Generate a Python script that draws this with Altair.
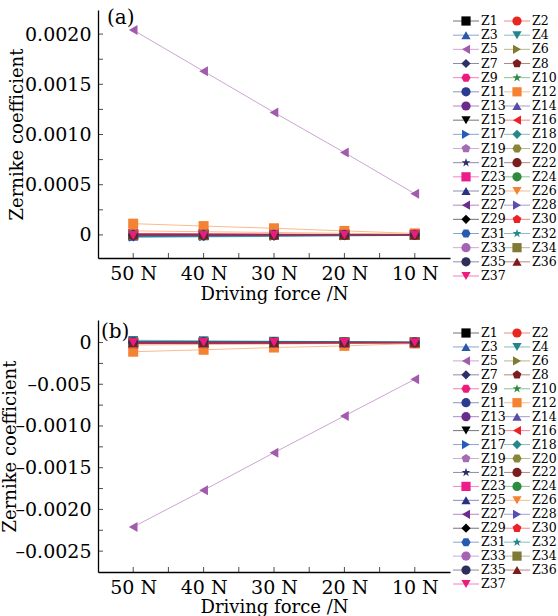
import json
import altair as alt
import pandas as pd

# ---------------- data ----------------
forces = ["50 N", "40 N", "30 N", "20 N", "10 N"]
names = [f"Z{i}" for i in range(1, 38)]

colors = ["#000000", "#e8251f", "#2b58a8", "#23858a", "#a25aad", "#7f7b30", "#2d2f66",
          "#7b1d1d", "#ec1c7c", "#2e8b3e", "#2b3990", "#f58232", "#6b2a8c", "#5a4ca6",
          "#000000", "#ec2027", "#2659b8", "#24888a", "#a46cb4", "#8a8436", "#2d2f66",
          "#7b1d1d", "#ec1c8c", "#2e8b3e", "#283080", "#f58232", "#6b2a8c", "#5a4cb0",
          "#000000", "#ec2027", "#2659b0", "#24888a", "#a463b3", "#7f7b36", "#2d2f5a",
          "#7b1d1d", "#ec1c7c"]

PENT = "M0,-1L0.951,-0.309L0.588,0.809L-0.588,0.809L-0.951,-0.309Z"
HEX = "M1,0L0.5,0.866L-0.5,0.866L-1,0L-0.5,-0.866L0.5,-0.866Z"
STAR = ("M0,-1L0.235,-0.324L0.951,-0.309L0.38,0.124L0.588,0.809L0,0.4"
        "L-0.588,0.809L-0.38,0.124L-0.951,-0.309L-0.235,-0.324Z")
shapes = ["square", "circle", "triangle-up", "triangle-down", "triangle-left", "triangle-right",
          "diamond", PENT, HEX, STAR, "circle", "square", "circle", "triangle-up",
          "triangle-down", "triangle-left", "triangle-right", "diamond", PENT, HEX, STAR,
          "circle", "square", "circle", "triangle-up", "triangle-down", "triangle-left",
          "triangle-right", "diamond", PENT, HEX, STAR, "circle", "square", "circle",
          "triangle-up", "triangle-down"]

# panel (a)
a_Z1 = [0.0, 0.0, 0.0, 0.0, 0.0]
a_Z2 = [0.000006, 0.000005, 0.000004, 0.000002, 0.000001]
a_Z3 = [-0.000012, -0.000009, -0.000007, -0.000004, -0.000002]
a_Z4 = [-0.000025, -0.00002, -0.000015, -0.00001, -0.000005]
a_Z5 = [0.00204, 0.00163, 0.00122, 0.00082, 0.00041]
a_Z6 = [0.000004, 0.000003, 0.000002, 0.000002, 0.000001]
a_Z7 = [-0.000006, -0.000005, -0.000004, -0.000002, -0.000001]
a_Z8 = [0.000003, 0.000002, 0.000002, 0.000001, 0.0]
a_Z9 = [0.000008, 0.000006, 0.000005, 0.000003, 0.000001]
a_Z10 = [-0.000004, -0.000003, -0.000002, -0.000002, -0.000001]
a_Z11 = [0.000005, 0.000004, 0.000003, 0.000002, 0.000001]
a_Z12 = [0.000112, 0.000088, 0.000066, 0.00004, 0.000015]
a_Z13 = [0.000007, 0.000006, 0.000004, 0.000003, 0.000001]
a_Z14 = [-0.000008, -0.000006, -0.000005, -0.000003, -0.000001]
a_Z15 = [0.000002, 0.000002, 0.000001, 0.000001, 0.0]
a_Z16 = [0.000015, 0.000012, 0.000009, 0.000006, 0.000003]
a_Z17 = [-0.000018, -0.000014, -0.000011, -0.000007, -0.000003]
a_Z18 = [-0.000014, -0.000011, -0.000008, -0.000005, -0.000002]
a_Z19 = [0.000006, 0.000005, 0.000004, 0.000002, 0.000001]
a_Z20 = [-0.000003, -0.000002, -0.000002, -0.000001, 0.0]
a_Z21 = [0.000004, 0.000003, 0.000002, 0.000001, 0.0]
a_Z22 = [-0.000005, -0.000004, -0.000003, -0.000002, -0.000001]
a_Z23 = [0.000009, 0.000007, 0.000005, 0.000003, 0.000001]
a_Z24 = [-0.000006, -0.000005, -0.000004, -0.000002, -0.000001]
a_Z25 = [-0.00001, -0.000008, -0.000006, -0.000004, -0.000002]
a_Z26 = [0.00004, 0.000032, 0.000024, 0.000016, 0.000008]
a_Z27 = [0.000005, 0.000004, 0.000003, 0.000002, 0.000001]
a_Z28 = [-0.000007, -0.000005, -0.000004, -0.000003, -0.000001]
a_Z29 = [0.000003, 0.000002, 0.000002, 0.000001, 0.0]
a_Z30 = [0.000006, 0.000005, 0.000004, 0.000002, 0.000001]
a_Z31 = [-0.000009, -0.000007, -0.000005, -0.000003, -0.000001]
a_Z32 = [-0.000012, -0.00001, -0.000007, -0.000005, -0.000002]
a_Z33 = [0.000004, 0.000003, 0.000002, 0.000001, 0.0]
a_Z34 = [0.000002, 0.000002, 0.000001, 0.000001, 0.0]
a_Z35 = [-0.000004, -0.000003, -0.000002, -0.000001, 0.0]
a_Z36 = [0.000003, 0.000002, 0.000002, 0.000001, 0.0]
a_Z37 = [-0.000004, -0.000003, -0.000002, -0.000001, 0.0]

# panel (b)
b_Z1 = [0.0, 0.0, 0.0, 0.0, 0.0]
b_Z2 = [-0.000006, -0.000005, -0.000004, -0.000002, -0.000001]
b_Z3 = [0.000014, 0.000011, 0.000008, 0.000005, 0.000002]
b_Z4 = [0.000027, 0.000022, 0.000016, 0.000011, 0.000005]
b_Z5 = [-0.00221, -0.00177, -0.00132, -0.00088, -0.00044]
b_Z6 = [-0.000004, -0.000003, -0.000002, -0.000002, -0.000001]
b_Z7 = [0.000006, 0.000005, 0.000004, 0.000002, 0.000001]
b_Z8 = [-0.000003, -0.000002, -0.000002, -0.000001, 0.0]
b_Z9 = [-0.000008, -0.000006, -0.000005, -0.000003, -0.000001]
b_Z10 = [0.000004, 0.000003, 0.000002, 0.000002, 0.000001]
b_Z11 = [-0.000005, -0.000004, -0.000003, -0.000002, -0.000001]
b_Z12 = [-0.00011, -0.000087, -0.00006, -0.00004, -0.000012]
b_Z13 = [-0.000007, -0.000006, -0.000004, -0.000003, -0.000001]
b_Z14 = [0.000008, 0.000006, 0.000005, 0.000003, 0.000001]
b_Z15 = [-0.000002, -0.000002, -0.000001, -0.000001, 0.0]
b_Z16 = [-0.000015, -0.000012, -0.000009, -0.000006, -0.000003]
b_Z17 = [0.000016, 0.000013, 0.00001, 0.000006, 0.000003]
b_Z18 = [0.000014, 0.000011, 0.000008, 0.000005, 0.000002]
b_Z19 = [-0.000006, -0.000005, -0.000004, -0.000002, -0.000001]
b_Z20 = [0.000003, 0.000002, 0.000002, 0.000001, 0.0]
b_Z21 = [-0.000004, -0.000003, -0.000002, -0.000001, 0.0]
b_Z22 = [0.000005, 0.000004, 0.000003, 0.000002, 0.000001]
b_Z23 = [-0.000009, -0.000007, -0.000005, -0.000003, -0.000001]
b_Z24 = [0.000006, 0.000005, 0.000004, 0.000002, 0.000001]
b_Z25 = [0.00001, 0.000008, 0.000006, 0.000004, 0.000002]
b_Z26 = [-0.00003, -0.000024, -0.000018, -0.000012, -0.000006]
b_Z27 = [-0.000005, -0.000004, -0.000003, -0.000002, -0.000001]
b_Z28 = [0.000007, 0.000005, 0.000004, 0.000003, 0.000001]
b_Z29 = [-0.000003, -0.000002, -0.000002, -0.000001, 0.0]
b_Z30 = [-0.000006, -0.000005, -0.000004, -0.000002, -0.000001]
b_Z31 = [0.000009, 0.000007, 0.000005, 0.000003, 0.000001]
b_Z32 = [0.000012, 0.00001, 0.000007, 0.000005, 0.000002]
b_Z33 = [-0.000004, -0.000003, -0.000002, -0.000001, 0.0]
b_Z34 = [-0.000002, -0.000002, -0.000001, -0.000001, 0.0]
b_Z35 = [0.000004, 0.000003, 0.000002, 0.000001, 0.0]
b_Z36 = [-0.000003, -0.000002, -0.000002, -0.000001, 0.0]
b_Z37 = [0.000002, 0.000002, 0.000001, 0.000001, 0.0]

a_tick_labels = ["0", "0.0005", "0.0010", "0.0015", "0.0020"]
b_tick_labels = ["0", "\u20130.005", "\u20130.0010", "\u20130.0015", "\u20130.0020", "\u20130.0025"]

# ---------------- build ----------------
FONT = "DejaVu Serif"
W = 352
MS = 100
TICK = 5


def long_df(prefix):
    rows = []
    for n in names:
        vals = globals()[f"{prefix}_{n}"]
        for i, v in enumerate(vals):
            rows.append({"name": n, "xi": i, "force": forces[i], "v": v})
    return pd.DataFrame(rows)


legend_df = pd.DataFrame({"name": names,
                          "col": [i % 2 for i in range(len(names))],
                          "row": [i // 2 for i in range(len(names))]})

cscale = alt.Scale(domain=names, range=colors)
sscale = alt.Scale(domain=names, range=shapes)

x_lab = []
for i, f in enumerate(forces):
    x_lab.append(f)
    if i < len(forces) - 1:
        x_lab.append("")
x_vals = [k / 2 for k in range(len(x_lab))]
x_scale = alt.Scale(domain=[-0.5, len(forces) - 0.5], nice=False, zero=False)


def x_axis(tp):
    return alt.Axis(values=x_vals,
                    labelExpr=f"{json.dumps(x_lab)}[round(datum.value*2)]",
                    title="Driving force /N", grid=False, ticks=False,
                    labelPadding=6, titlePadding=tp)


def y_spec(labels, sign, title_x):
    lab = []
    for i, t in enumerate(labels):
        lab.append(t)
        if i < len(labels) - 1:
            lab.append("")
    vals = [sign * 0.00025 * k for k in range(len(lab))]
    ax = alt.Axis(values=vals,
                  labelExpr=f"{json.dumps(lab, ensure_ascii=False)}[round({sign}*datum.value/0.00025)]",
                  title="Zernike coefficient", grid=False, ticks=False, labelPadding=7,
                  titleX=title_x, titleBaseline="middle", titleAngle=270)
    return ax, vals


def panel(prefix, ydom, ylabels, sign, title_x, tp, height, leg_range, tag, tag_x, tag_y, frame):
    yax, yvals = y_spec(ylabels, sign, title_x)
    df = long_df(prefix)
    base = alt.Chart(df)
    xs = alt.X("xi:Q", scale=x_scale, axis=x_axis(tp))
    ys = alt.Y("v:Q", scale=alt.Scale(domain=ydom, nice=False, zero=False), axis=yax)
    col = alt.Color("name:N", scale=cscale, legend=None)
    lines = base.mark_line(strokeWidth=1, opacity=0.55).encode(x=xs, y=ys, color=col)
    pts = base.mark_point(filled=True, size=MS, opacity=1).encode(
        x=xs, y=ys, color=col, shape=alt.Shape("name:N", scale=sscale, legend=None))
    # inward ticks
    ytk = alt.Chart(pd.DataFrame({"v": yvals})).mark_tick(
        orient="horizontal", size=TICK, thickness=1, color="black"
    ).encode(y=alt.Y("v:Q"), x=alt.value(TICK / 2))
    xtk = alt.Chart(pd.DataFrame({"xi": x_vals})).mark_tick(
        orient="vertical", size=TICK, thickness=1, color="black"
    ).encode(x=alt.X("xi:Q"), y=alt.value(height - TICK / 2))
    tag_txt = alt.Chart(pd.DataFrame({"t": [tag]})).mark_text(
        align="left", baseline="top", font=FONT, fontSize=20, color="black"
    ).encode(text="t:N", x=alt.value(tag_x), y=alt.value(tag_y))
    # invisible frame that fixes the panel's outer extent
    box = alt.Chart(pd.DataFrame({"k": [0]})).mark_rule(
        color="white", strokeOpacity=0, opacity=0
    ).encode(x=alt.value(frame[0]), x2=alt.value(frame[1]),
             y=alt.value(frame[2]), y2=alt.value(frame[3]))
    main = alt.layer(box, lines, pts, ytk, xtk, tag_txt)

    lx = alt.X("col:Q", scale=alt.Scale(domain=[0, 1], range=[368, 419]), axis=None)
    ly = alt.Y("row:Q", scale=alt.Scale(domain=[0, 18], range=leg_range), axis=None)
    lb = alt.Chart(legend_df)
    lrule = lb.mark_tick(orient="horizontal", size=26, thickness=1, opacity=0.55).encode(
        x=lx, y=ly, color=col)
    lpts = lb.mark_point(filled=True, size=85, opacity=1).encode(
        x=lx, y=ly, color=col, shape=alt.Shape("name:N", scale=sscale, legend=None))
    ltxt0 = lb.transform_filter("datum.col == 0").mark_text(
        align="left", baseline="middle", dx=15, font=FONT, fontSize=12.5, color="black"
    ).encode(x=lx, y=ly, text="name:N")
    ltxt1 = lb.transform_filter("datum.col == 1").mark_text(
        align="left", baseline="middle", dx=15, font=FONT, fontSize=12.5, color="black"
    ).encode(x=lx, y=ly, text="name:N")
    leg = alt.layer(lrule, lpts, ltxt0, ltxt1)
    return alt.layer(main, leg).resolve_scale(x="independent", y="independent").properties(
        width=W, height=height)


pa = panel("a", [-0.00023, 0.00224], a_tick_labels, 1, -81, 2, 248, [11, 266],
           "(a)", 9, -2, (-98, 460, -10, 300))
pb = panel("b", [-0.00275, 0.00027], b_tick_labels, -1, -88, 1, 252, [13, 264],
           "(b)", 3, 2, (-98, 460, 0, 296))

chart = alt.vconcat(pa, pb, spacing=10).properties(
    padding={"left": 0, "top": 0, "right": 0, "bottom": 0}
).configure_view(stroke=None).configure_axis(
    domainColor="black", domainWidth=1.3,
    labelFont=FONT, labelFontSize=19, labelColor="black",
    titleFont=FONT, titleFontSize=18, titleFontWeight="normal", titleColor="black",
    labelFlush=False, labelOverlap=False
)

chart.save("out.html", embed_options={"renderer": "svg", "actions": False})
